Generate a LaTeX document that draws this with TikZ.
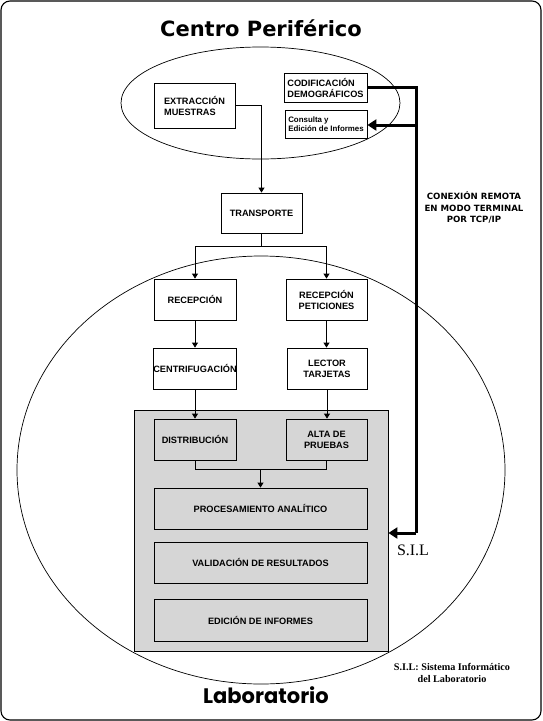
\documentclass[tikz,border=0pt]{standalone}
\usepackage{fontspec}
\setmainfont{Liberation Sans}
\newfontfamily\dejafont{DejaVu Sans}
\newfontfamily\popfont{Poppins}
\newfontfamily\serffont{Liberation Serif}
\usetikzlibrary{arrows.meta}
\definecolor{panelgray}{RGB}{214,214,214}
\begin{document}
\begin{tikzpicture}[x=1pt,y=-1pt,
  box/.style={draw, line width=0.8pt, fill=white, inner sep=1pt, align=center,
    font=\fontsize{9.2}{11}\selectfont\bfseries},
  gbox/.style={box, fill=none},
  thin/.style={line width=0.8pt, -{Triangle[length=5pt,width=6pt]}},
  plain/.style={line width=0.8pt},
  thick/.style={line width=3pt},
  thickarrow/.style={line width=3pt, -{Triangle[length=9pt,width=11pt]}},
  outline/.style={line width=0.7pt}
]
\useasboundingbox (0,0) rectangle (542,721);
% frame
\draw[line width=1.1pt, rounded corners=9pt] (1,1) rectangle (541,720);

% title
\node[font=\dejafont\bfseries\fontsize{21}{24}\selectfont] (title) at (261,28) {Centro Periférico};

% ellipses
\draw[outline] (260.5,103) ellipse [x radius=139.5pt, y radius=56pt];
\draw[outline] (261,470) ellipse [x radius=244pt, y radius=214pt];

% gray panel
\node[draw, line width=0.8pt, fill=panelgray, minimum width=254pt, minimum height=241pt, inner sep=0pt] (panel) at (261,530.5) {};

% top boxes
\node[box, minimum width=81pt, minimum height=45pt, align=left] (ext) at (194.5,105.5) {EXTRACCIÓN\\MUESTRAS};
\node[box, minimum width=83pt, minimum height=29pt, align=left, inner sep=0.5pt] (cod) at (325.5,87.5) {CODIFICACIÓN\\DEMOGRÁFICOS};
\node[box, minimum width=82pt, minimum height=28pt, align=left, font=\fontsize{7.9}{9.5}\selectfont\bfseries, inner sep=0.5pt] (con) at (326,124) {Consulta y\\Edición de Informes};

\node[box, minimum width=81pt, minimum height=40pt] (tra) at (261.5,213) {TRANSPORTE};
\node[box, minimum width=82pt, minimum height=41pt] (rec) at (195,299.5) {RECEPCIÓN};
\node[box, minimum width=81pt, minimum height=41pt] (rpe) at (326.5,299.5) {RECEPCIÓN\\PETICIONES};
\node[box, minimum width=82pt, minimum height=41pt, inner sep=0pt] (cen) at (195,368.5) {CENTRIFUGACIÓN};
\node[box, minimum width=80pt, minimum height=41pt] (lec) at (327,368.5) {LECTOR\\TARJETAS};

\node[gbox, minimum width=82pt, minimum height=41pt] (dis) at (195,439.5) {DISTRIBUCIÓN};
\node[gbox, minimum width=81pt, minimum height=41pt] (alt) at (326.5,439.5) {ALTA DE\\PRUEBAS};
\node[gbox, minimum width=213pt, minimum height=41pt] (pro) at (260.5,508.5) {PROCESAMIENTO ANALÍTICO};
\node[gbox, minimum width=213pt, minimum height=41pt] (val) at (260.5,562.5) {VALIDACIÓN DE RESULTADOS};
\node[gbox, minimum width=213pt, minimum height=42pt] (edi) at (260.5,620) {EDICIÓN DE INFORMES};

% thin connectors
\draw[thin] (ext.east) -| (tra.north);
\coordinate (j1) at (261.5,246);
\draw[plain] (tra.south) -- (j1);
\draw[thin] (j1) -| (rec.north);
\draw[thin] (j1) -| (rpe.north);
\draw[thin] (rec.south) -- (cen.north);
\draw[thin] (rpe.south) -- (rpe.south |- lec.north);
\draw[thin] (cen.south) -- (dis.north);
\draw[thin] (lec.south) -- (lec.south |- alt.north);
\coordinate (j2) at (260.5,469);
\draw[plain] (dis.south) |- (j2);
\draw[plain] (alt.south) |- (j2);
\draw[thin] (j2) -- (pro.north);

% thick S.I.L connection
\coordinate (t1) at (416,87.5);
\coordinate (t2) at (416,533);
\coordinate (sil) at (panel.east |- t2);
\draw[thick, line join=miter] (cod.east) -- (t1) -- (t2);
\draw[thickarrow] (t2) -- (sil);
\coordinate (t3) at (416,125);
\draw[thickarrow] (t3) -- (con.east |- t3);

% labels
\node[font=\dejafont\bfseries\fontsize{8.6}{11.5}\selectfont, align=center] (conex) at (474,207.5) {CONEXIÓN REMOTA\\EN MODO TERMINAL\\POR TCP/IP};
\node[font=\serffont\fontsize{16}{18}\selectfont] (siltext) at (413,550) {S.I.L};
\node[font=\serffont\bfseries\fontsize{10.2}{12}\selectfont, align=center] (note) at (452,672.5) {S.I.L: Sistema Informático\\del Laboratorio};
\node[font=\popfont\bfseries\fontsize{21}{24}\selectfont] (lab) at (266,695) {Laboratorio};
\end{tikzpicture}
\end{document}
